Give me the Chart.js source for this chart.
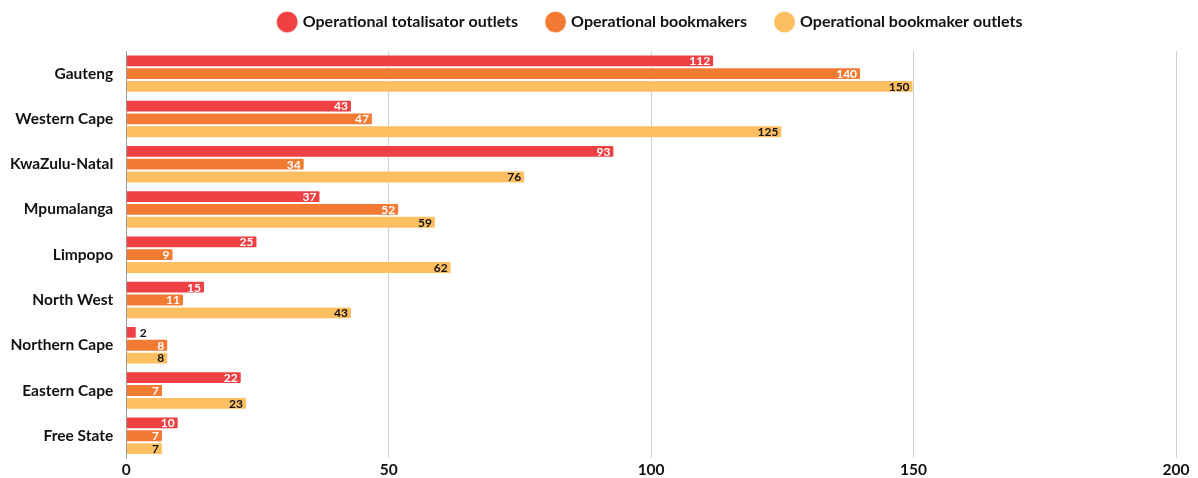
<!DOCTYPE html>
<html>
<head>
<meta charset="utf-8">
<script src="https://cdn.jsdelivr.net/npm/chart.js@4.4.0/dist/chart.umd.min.js"></script>
<style>
  html, body { margin: 0; padding: 0; background: #fff; }
  #wrap { width: 1198px; height: 478px; }
</style>
</head>
<body>
<div id="wrap"><canvas id="outlets-chart"></canvas></div>
<script>
// Provinces and outlet counts
const provinces = ['Gauteng', 'Western Cape', 'KwaZulu-Natal', 'Mpumalanga', 'Limpopo',
    'North West', 'Northern Cape', 'Eastern Cape', 'Free State'];
const totalisatorOutlets = [112, 43, 93, 37, 25, 15, 2, 22, 10];
const bookmakers = [140, 47, 34, 52, 9, 11, 8, 7, 7];
const bookmakerOutlets = [150, 125, 76, 59, 62, 43, 8, 23, 7];
const xTicks = [0, 50, 100, 150, 200];

const FONT = 'Lato, "Open Sans", sans-serif';

// Value labels drawn at the end of each bar
const barLabels = {
    id: 'barLabels',
    afterDatasetsDraw(chart) {
        const ctx = chart.ctx;
        ctx.save();
        ctx.font = 'bold 12px ' + FONT;
        ctx.textBaseline = 'middle';
        chart.data.datasets.forEach((ds, i) => {
            const meta = chart.getDatasetMeta(i);
            meta.data.forEach((bar, j) => {
                const text = String(ds.data[j]);
                const w = ctx.measureText(text).width;
                if (bar.x - bar.base > w + 8) {
                    ctx.textAlign = 'right';
                    ctx.fillStyle = ds.labelColor;
                    ctx.fillText(text, bar.x - 4, bar.y + 0.5);
                } else {
                    ctx.textAlign = 'left';
                    ctx.fillStyle = '#111';
                    ctx.fillText(text, bar.x + 3, bar.y + 0.5);
                }
            });
        });
        ctx.restore();
    }
};

// Extra room under the legend before the plot starts
const legendFit = {
    id: 'legendFit',
    beforeInit(chart) {
        const legend = chart.legend;
        if (!legend) return;
        const fit = legend.fit;
        legend.fit = function () {
            fit.call(this);
            this.height += 11;
        };
    }
};

function makeDataset(label, data, color, labelColor) {
    return {
        label: label,
        data: data,
        backgroundColor: color,
        borderColor: 'rgba(255,255,255,0.35)',
        borderWidth: 1,
        borderRadius: { topRight: 2, bottomRight: 2 },
        borderSkipped: 'left',
        categoryPercentage: 0.85,
        barPercentage: 1.0,
        labelColor: labelColor
    };
}

new Chart(document.getElementById('outlets-chart'), {
    type: 'bar',
    data: {
        labels: provinces,
        datasets: [
            makeDataset('Operational totalisator outlets', totalisatorOutlets, '#ef4044', '#fff'),
            makeDataset('Operational bookmakers', bookmakers, '#f37a33', '#fff'),
            makeDataset('Operational bookmaker outlets', bookmakerOutlets, '#fdbf61', '#111')
        ]
    },
    options: {
        indexAxis: 'y',
        responsive: true,
        maintainAspectRatio: false,
        animation: false,
        layout: { padding: { left: 5, right: 22, top: -16, bottom: -3 } },
        scales: {
            x: {
                min: 0,
                max: 200,
                afterBuildTicks: axis => { axis.ticks = xTicks.map(v => ({ value: v })); },
                ticks: {
                    color: '#111',
                    font: { family: FONT, size: 15.5, weight: 'bold' },
                    padding: 2
                },
                grid: { color: '#cfcfcf', drawTicks: false },
                border: { display: false }
            },
            y: {
                ticks: {
                    color: '#111',
                    font: { family: FONT, size: 15.5, weight: 'bold' },
                    padding: 5
                },
                grid: { display: false },
                border: { color: '#999', width: 1 }
            }
        },
        plugins: {
            legend: {
                position: 'top',
                fullSize: false,
                labels: {
                    usePointStyle: true,
                    pointStyle: 'circle',
                    boxWidth: 15,
                    boxHeight: 15,
                    padding: 30,
                    color: '#111',
                    font: { family: FONT, size: 16, weight: 'bold' }
                }
            },
            tooltip: { enabled: false }
        }
    },
    plugins: [barLabels, legendFit]
});
</script>
</body>
</html>
